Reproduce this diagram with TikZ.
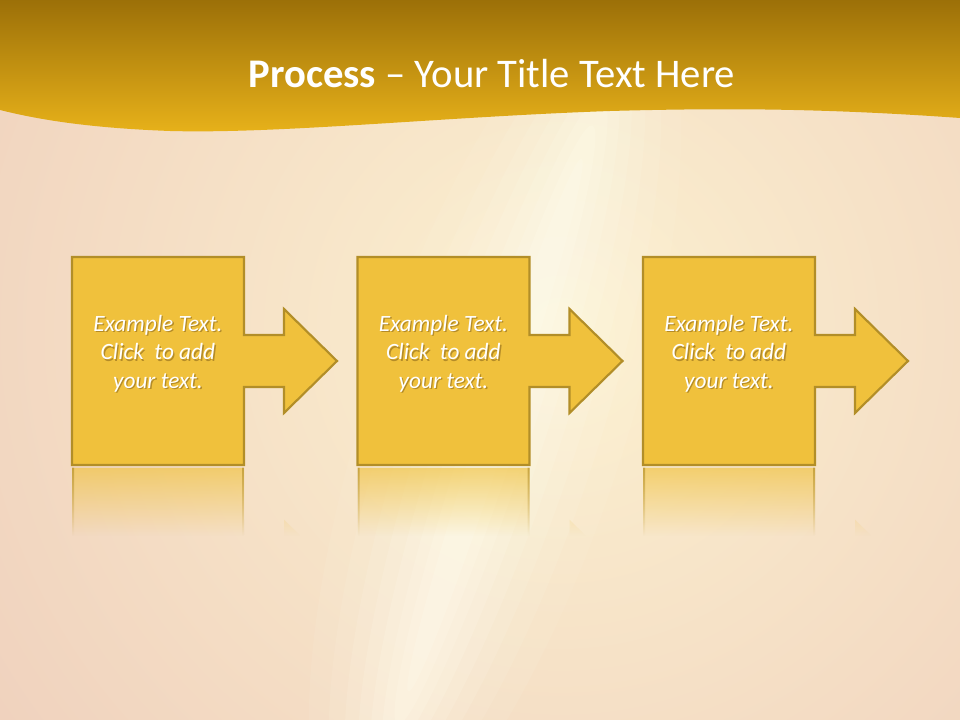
\documentclass[tikz,border=0pt]{standalone}
\usepackage{fontspec}
\setmainfont{Carlito}
\usetikzlibrary{fadings}

\definecolor{bandtop}{RGB}{156,112,8}
\definecolor{bandbot}{RGB}{232,178,26}
\definecolor{peach}{RGB}{236,200,184}
\definecolor{glowcore}{RGB}{252,241,208}
\definecolor{beam}{RGB}{255,253,238}
\definecolor{stepfill}{RGB}{240,193,60}
\definecolor{stepline}{RGB}{178,142,40}
\definecolor{shadowbrown}{RGB}{90,60,10}

\tikzfading[name=mirror, top color=transparent!35, bottom color=transparent!100]

\begin{document}
\begin{tikzpicture}[x=0.75pt, y=-0.75pt, node distance=214.125pt,
    stepbox/.style={rectangle, minimum width=129pt, minimum height=156pt,
        inner sep=0pt, outer sep=0pt},
    stepshape/.style={fill=stepfill, draw=stepline, line width=1.6pt, line join=miter},
    steptext/.style={align=center, text=white, font=\itshape\fontsize{17.5}{21.4}\selectfont},
    stepshadow/.style={steptext, text=shadowbrown, text opacity=0.4},
    beamlayer/.style={fill=beam, rotate around={-18:(495,425)}},
    titletext/.style={anchor=base, text=white, font=\fontsize{30.5}{36}\selectfont}]

    \useasboundingbox (0,0) rectangle (960,720);

    % background
    \begin{scope}
        \clip (0,0) rectangle (960,720);
        \shade[inner color=glowcore, outer color=peach] (560,330) circle (900);
        \fill[beamlayer, opacity=0.08] (495,425) ellipse (130 and 450);
        \fill[beamlayer, opacity=0.1] (495,425) ellipse (105 and 430);
        \fill[beamlayer, opacity=0.12] (495,425) ellipse (85 and 410);
        \fill[beamlayer, opacity=0.14] (495,425) ellipse (68 and 390);
        \fill[beamlayer, opacity=0.16] (495,425) ellipse (52 and 370);
        \fill[beamlayer, opacity=0.18] (495,425) ellipse (38 and 345);
        \fill[beamlayer, opacity=0.2] (495,425) ellipse (26 and 315);
        \fill[beamlayer, opacity=0.22] (495,425) ellipse (15 and 280);
    \end{scope}

    % title band
    \shade[top color=bandtop, bottom color=bandbot] (0,0) -- (960,0) -- (960,118)
        .. controls (820,108) and (720,108) .. (610,111)
        .. controls (440,117) and (280,134) .. (170,131)
        .. controls (90,128) and (40,120) .. (0,110) -- cycle;
    \node[titletext] (title) at (492,88) {\textbf{Process} \textendash{} Your Title Text Here};

    % steps
    \node[stepbox] (b1) at (158,361) {};
    \node[stepbox] (b2) [right of=b1] {};
    \node[stepbox] (b3) [right of=b2] {};

    \draw[stepshape] (b1.north west) -- (b1.north east) -- ++(0,78) -- ++(40,0) -- ++(0,-26)
        -- ++(53,52) -- ++(-53,52) -- ++(0,-26) -- ++(-40,0) -- (b1.south east) -- (b1.south west) -- cycle;
    \draw[stepshape] (b2.north west) -- (b2.north east) -- ++(0,78) -- ++(40,0) -- ++(0,-26)
        -- ++(53,52) -- ++(-53,52) -- ++(0,-26) -- ++(-40,0) -- (b2.south east) -- (b2.south west) -- cycle;
    \draw[stepshape] (b3.north west) -- (b3.north east) -- ++(0,78) -- ++(40,0) -- ++(0,-26)
        -- ++(53,52) -- ++(-53,52) -- ++(0,-26) -- ++(-40,0) -- (b3.south east) -- (b3.south west) -- cycle;

    % reflections
    \begin{scope}
        \clip ([yshift=-2pt]b1.south west) -- ++(172,0) -- ++(0,78) -- ++(40,0) -- ++(0,-26)
            -- ++(53,52) -- ++(-53,52) -- ++(0,-26) -- ++(-40,0) -- ++(0,78) -- ++(-172,0) -- cycle;
        \fill[stepfill, path fading=mirror] ([yshift=-2pt]b1.south west) rectangle ++(265,68);
        \fill[stepline, path fading=mirror, even odd rule] ([yshift=-2pt]b1.south west) rectangle ++(172,68)
            ([xshift=1.5pt,yshift=-2pt]b1.south west) rectangle ++(168,68);
    \end{scope}
    \begin{scope}
        \clip ([yshift=-2pt]b2.south west) -- ++(172,0) -- ++(0,78) -- ++(40,0) -- ++(0,-26)
            -- ++(53,52) -- ++(-53,52) -- ++(0,-26) -- ++(-40,0) -- ++(0,78) -- ++(-172,0) -- cycle;
        \fill[stepfill, path fading=mirror] ([yshift=-2pt]b2.south west) rectangle ++(265,68);
        \fill[stepline, path fading=mirror, even odd rule] ([yshift=-2pt]b2.south west) rectangle ++(172,68)
            ([xshift=1.5pt,yshift=-2pt]b2.south west) rectangle ++(168,68);
    \end{scope}
    \begin{scope}
        \clip ([yshift=-2pt]b3.south west) -- ++(172,0) -- ++(0,78) -- ++(40,0) -- ++(0,-26)
            -- ++(53,52) -- ++(-53,52) -- ++(0,-26) -- ++(-40,0) -- ++(0,78) -- ++(-172,0) -- cycle;
        \fill[stepfill, path fading=mirror] ([yshift=-2pt]b3.south west) rectangle ++(265,68);
        \fill[stepline, path fading=mirror, even odd rule] ([yshift=-2pt]b3.south west) rectangle ++(172,68)
            ([xshift=1.5pt,yshift=-2pt]b3.south west) rectangle ++(168,68);
    \end{scope}

    % labels
    \node[stepshadow] (s1) at ([xshift=1pt,yshift=4.5pt]b1.center) {Example Text.\\Click~ to add\\your text.};
    \node[stepshadow] (s2) at ([xshift=1pt,yshift=4.5pt]b2.center) {Example Text.\\Click~ to add\\your text.};
    \node[stepshadow] (s3) at ([xshift=1pt,yshift=4.5pt]b3.center) {Example Text.\\Click~ to add\\your text.};
    \node[steptext] (t1) at ([yshift=5.5pt]b1.center) {Example Text.\\Click~ to add\\your text.};
    \node[steptext] (t2) at ([yshift=5.5pt]b2.center) {Example Text.\\Click~ to add\\your text.};
    \node[steptext] (t3) at ([yshift=5.5pt]b3.center) {Example Text.\\Click~ to add\\your text.};
\end{tikzpicture}
\end{document}
